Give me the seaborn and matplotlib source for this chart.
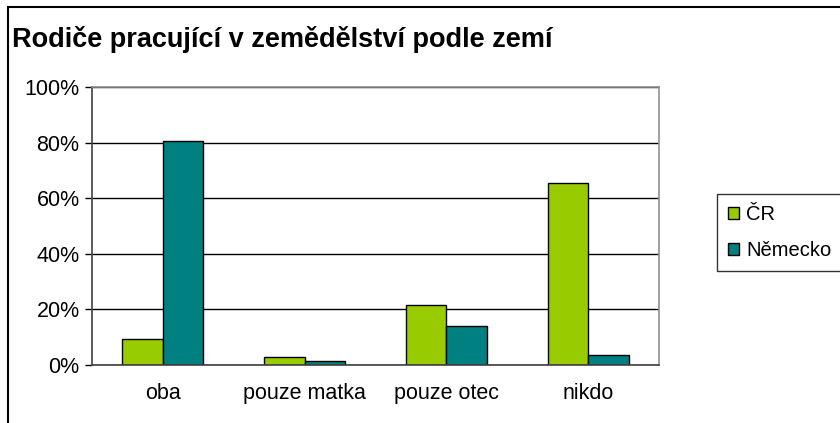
import matplotlib
matplotlib.use("Agg")
from matplotlib import pyplot as plt
from matplotlib.patches import Rectangle
from matplotlib.ticker import PercentFormatter, FixedLocator
import pandas as pd
import seaborn as sns

# data (percent)
categories = ["oba", "pouze matka", "pouze otec", "nikdo"]
countries = ["ČR", "Německo"]
cr_values = [9.2, 2.8, 21.5, 65.4]
de_values = [80.6, 1.4, 14.1, 3.6]
colors = ["#99CC00", "#008080"]
y_ticks = [0, 20, 40, 60, 80, 100]

df = pd.DataFrame({
    "kategorie": categories * 2,
    "zeme": [countries[0]] * len(categories) + [countries[1]] * len(categories),
    "podil": cr_values + de_values,
})

sns.set_style("white")
plt.rcParams["font.family"] = ["Liberation Sans", "DejaVu Sans"]
plt.rcParams["text.color"] = "black"
plt.rcParams["xtick.color"] = "black"
plt.rcParams["ytick.color"] = "black"

fig = plt.figure(figsize=(8.4, 4.23), dpi=100)
ax = fig.add_axes([92 / 840, 1 - 365 / 423, (659 - 92) / 840, (365 - 87) / 423])

sns.barplot(
    data=df, x="kategorie", y="podil", hue="zeme", order=categories,
    hue_order=countries, palette=colors, width=0.571, gap=0,
    edgecolor="black", linewidth=1, saturation=1, ax=ax, legend=False,
)

# axes look
ax.set_xlim(-0.5, len(categories) - 0.5)
ax.set_ylim(0, 100)
ax.set_yticks(y_ticks)
ax.yaxis.set_major_formatter(PercentFormatter(100, decimals=0))
ax.yaxis.grid(True, color="black", linewidth=1)
ax.set_axisbelow(True)
ax.set_xlabel("")
ax.set_ylabel("")
ax.xaxis.set_minor_locator(FixedLocator([i - 0.5 for i in range(len(categories) + 1)]))
ax.tick_params(axis="x", which="major", length=0, pad=13, labelsize=15.5)
ax.tick_params(axis="x", which="minor", length=5, color="#606060", width=1)
ax.tick_params(axis="y", which="major", length=5, color="black", width=1,
               labelsize=15.5, left=True, pad=4)
for side in ["top", "right"]:
    ax.spines[side].set_visible(True)
    ax.spines[side].set_color("#909090")
    ax.spines[side].set_linewidth(1.2)
for side in ["left", "bottom"]:
    ax.spines[side].set_color("#404040")
    ax.spines[side].set_linewidth(1.2)

# title
fig.text(12 / 840, 1 - 47 / 423, "Rodiče pracující v zemědělství podle zemí",
         fontsize=19.5, fontweight="bold", ha="left", va="baseline")

# legend
handles = [Rectangle((0, 0), 1, 1, facecolor=c, edgecolor="black", linewidth=1) for c in colors]
leg = fig.legend(handles, countries, loc="upper left",
                 bbox_to_anchor=(717 / 840, 1 - 194 / 423), borderaxespad=0,
                 fontsize=14.5, frameon=True, fancybox=False, edgecolor="black",
                 handlelength=0.55, handleheight=0.55, handletextpad=0.35,
                 labelspacing=0.85, borderpad=0.55)
leg.get_frame().set_linewidth(1)

# chart frame (cropped at right and bottom)
fig.patches.append(Rectangle((8 / 840, -0.1), 1.0, 1.1 - 7 / 423,
                             transform=fig.transFigure, fill=False,
                             edgecolor="black", linewidth=1.5))

fig.savefig("out.png", dpi=100)
